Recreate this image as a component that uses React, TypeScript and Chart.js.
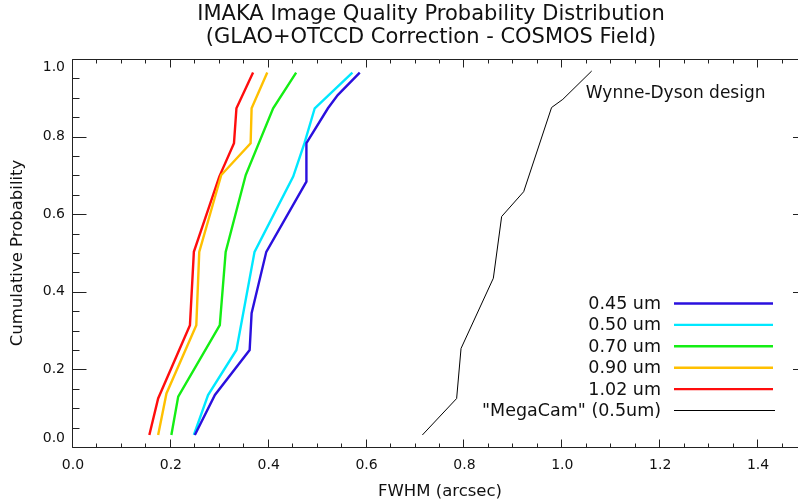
import React, { useEffect, useRef } from "react";
import { Chart, registerables } from "chart.js";

Chart.register(...registerables);

const titleLines = [
  "IMAKA Image Quality Probability Distribution",
  "(GLAO+OTCCD Correction - COSMOS Field)",
];
const xAxisTitle = "FWHM (arcsec)";
const yAxisTitle = "Cumulative Probability";
const xTickValues = [0, 0.2, 0.4, 0.6, 0.8, 1.0, 1.2, 1.4];
const yTickValues = [0, 0.2, 0.4, 0.6, 0.8, 1.0];
const annotationText = "Wynne-Dyson design";
const annotationAt = [1.048, 0.912];

const seriesLabels = ["0.45 um", "0.50 um", "0.70 um", "0.90 um", "1.02 um", "\"MegaCam\" (0.5um)"];
const seriesColors = ["#2a10de", "#00e8ff", "#14ee14", "#ffc000", "#ff0d0d", "#000000"];

const fwhm045 = [0.249, 0.290, 0.361, 0.365, 0.395, 0.477, 0.477, 0.521, 0.541, 0.586];
const prob045 = [0.031, 0.134, 0.250, 0.345, 0.503, 0.684, 0.783, 0.873, 0.907, 0.965];

const fwhm050 = [0.247, 0.276, 0.334, 0.371, 0.450, 0.473, 0.494, 0.571];
const prob050 = [0.031, 0.134, 0.250, 0.503, 0.697, 0.783, 0.873, 0.965];

const fwhm070 = [0.201, 0.215, 0.300, 0.312, 0.353, 0.409, 0.456];
const prob070 = [0.031, 0.130, 0.314, 0.503, 0.701, 0.873, 0.965];

const fwhm090 = [0.174, 0.191, 0.252, 0.258, 0.303, 0.363, 0.365, 0.397];
const prob090 = [0.031, 0.138, 0.314, 0.503, 0.701, 0.783, 0.873, 0.965];

const fwhm102 = [0.156, 0.174, 0.239, 0.247, 0.299, 0.329, 0.334, 0.368];
const prob102 = [0.031, 0.125, 0.314, 0.503, 0.697, 0.783, 0.873, 0.965];

const fwhmMega = [0.714, 0.784, 0.793, 0.859, 0.876, 0.921, 0.978, 1.001, 1.060];
const probMega = [0.031, 0.125, 0.254, 0.435, 0.594, 0.658, 0.875, 0.896, 0.969];

const seriesX = [fwhm045, fwhm050, fwhm070, fwhm090, fwhm102, fwhmMega];
const seriesY = [prob045, prob050, prob070, prob090, prob102, probMega];

const FONT = "'DejaVu Sans', sans-serif";

const framePlugin = {
  id: "idlFrame",
  afterDatasetsDraw(chart: any) {
    const { ctx, chartArea: a, scales } = chart;
    const xs = scales.x;
    const ys = scales.y;
    const L = Math.floor(a.left) - 0.5;
    const T = Math.floor(a.top) + 0.5;
    const B = Math.floor(a.bottom) + 0.5;
    const R = a.right;
    ctx.save();
    ctx.strokeStyle = "#222";
    ctx.lineWidth = 1;
    ctx.beginPath();
    ctx.moveTo(R, T);
    ctx.lineTo(L, T);
    ctx.lineTo(L, B);
    ctx.lineTo(R, B);
    ctx.stroke();
    ctx.beginPath();
    for (let i = 0; i <= 30; i++) {
      const px = Math.round(xs.getPixelForValue(i * 0.05)) - 0.5;
      const len = i % 4 === 0 ? 8 : 4;
      ctx.moveTo(px, B);
      ctx.lineTo(px, B - len);
      ctx.moveTo(px, T);
      ctx.lineTo(px, T + len);
    }
    for (let i = 0; i <= 20; i++) {
      const py = Math.round(ys.getPixelForValue(i * 0.05)) + 0.5;
      const len = i % 4 === 0 ? 14 : 7;
      ctx.moveTo(L, py);
      ctx.lineTo(L + len, py);
      ctx.moveTo(R, py);
      ctx.lineTo(R - len, py);
    }
    ctx.stroke();

    ctx.fillStyle = "#111";
    ctx.textAlign = "center";
    ctx.textBaseline = "middle";
    ctx.font = `21px ${FONT}`;
    ctx.fillText(titleLines[0], 431, 15);
    ctx.fillText(titleLines[1], 431, 38);

    ctx.textAlign = "left";
    ctx.font = `17px ${FONT}`;
    ctx.fillText(annotationText, xs.getPixelForValue(annotationAt[0]), ys.getPixelForValue(annotationAt[1]));

    ctx.font = `17.5px ${FONT}`;
    chart.data.datasets.forEach((ds: any, i: number) => {
      const y = 303.5 + i * 21.4;
      ctx.textAlign = "right";
      ctx.fillStyle = "#111";
      ctx.fillText(ds.label, 661, y + 1);
      ctx.strokeStyle = ds.borderColor;
      ctx.lineWidth = ds.borderWidth;
      ctx.beginPath();
      ctx.moveTo(674, y);
      ctx.lineTo(i === 5 ? 775 : 773, y);
      ctx.stroke();
    });
    ctx.restore();
  },
};

export default function App() {
  const ref = useRef<HTMLCanvasElement | null>(null);
  useEffect(() => {
    document.body.style.margin = "0";
    const canvas = ref.current!;
    const chart = new Chart(canvas, {
      type: "line",
      data: {
        datasets: seriesLabels.map((label, i) => ({
          label,
          data: seriesX[i].map((x, j) => ({ x, y: seriesY[i][j] })),
          borderColor: seriesColors[i],
          backgroundColor: seriesColors[i],
          borderWidth: i === 5 ? 1 : 2.4,
          pointRadius: 0,
          tension: 0,
          fill: false,
        })),
      },
      options: {
        animation: false,
        responsive: false,
        maintainAspectRatio: false,
        devicePixelRatio: 1,
        layout: { padding: { top: 59, right: 0, bottom: 0, left: 0 } },
        plugins: {
          legend: { display: false },
          tooltip: { enabled: false },
          title: { display: false },
        },
        scales: {
          x: {
            type: "linear",
            min: 0,
            max: 1.5,
            grid: { display: false, drawTicks: false },
            border: { display: false },
            afterBuildTicks: (s: any) => {
              s.ticks = xTickValues.map((v) => ({ value: v }));
            },
            afterFit: (s: any) => {
              s.height = 57;
            },
            ticks: {
              padding: 10,
              color: "#111",
              font: { family: FONT, size: 14 },
              callback: (v: any) => Number(v).toFixed(1),
              maxRotation: 0,
              autoSkip: false,
            },
            title: {
              display: true,
              text: xAxisTitle,
              color: "#111",
              font: { family: FONT, size: 16.5 },
              padding: { top: 0, bottom: 2 },
            },
          },
          y: {
            type: "linear",
            min: 0,
            max: 1,
            grid: { display: false, drawTicks: false },
            border: { display: false },
            afterBuildTicks: (s: any) => {
              s.ticks = yTickValues.map((v) => ({ value: v }));
            },
            afterFit: (s: any) => {
              s.width = 73;
            },
            ticks: {
              padding: 8,
              color: "#111",
              font: { family: FONT, size: 14 },
              callback: (v: any) => {
                const t = Number(v).toFixed(1);
                if (Number(v) >= 1) return ["", t];
                if (Number(v) <= 0) return [t, ""];
                return t;
              },
              autoSkip: false,
            },
            title: {
              display: true,
              text: yAxisTitle,
              color: "#111",
              font: { family: FONT, size: 16.5 },
              padding: { top: 8, bottom: 0 },
            },
          },
        },
      },
      plugins: [framePlugin],
    });
    return () => chart.destroy();
  }, []);
  return (
    <div style={{ width: 798, height: 504, overflow: "hidden", position: "relative" }}>
      <canvas ref={ref} width={807} height={504} style={{ width: 807, height: 504, display: "block" }} />
    </div>
  );
}
